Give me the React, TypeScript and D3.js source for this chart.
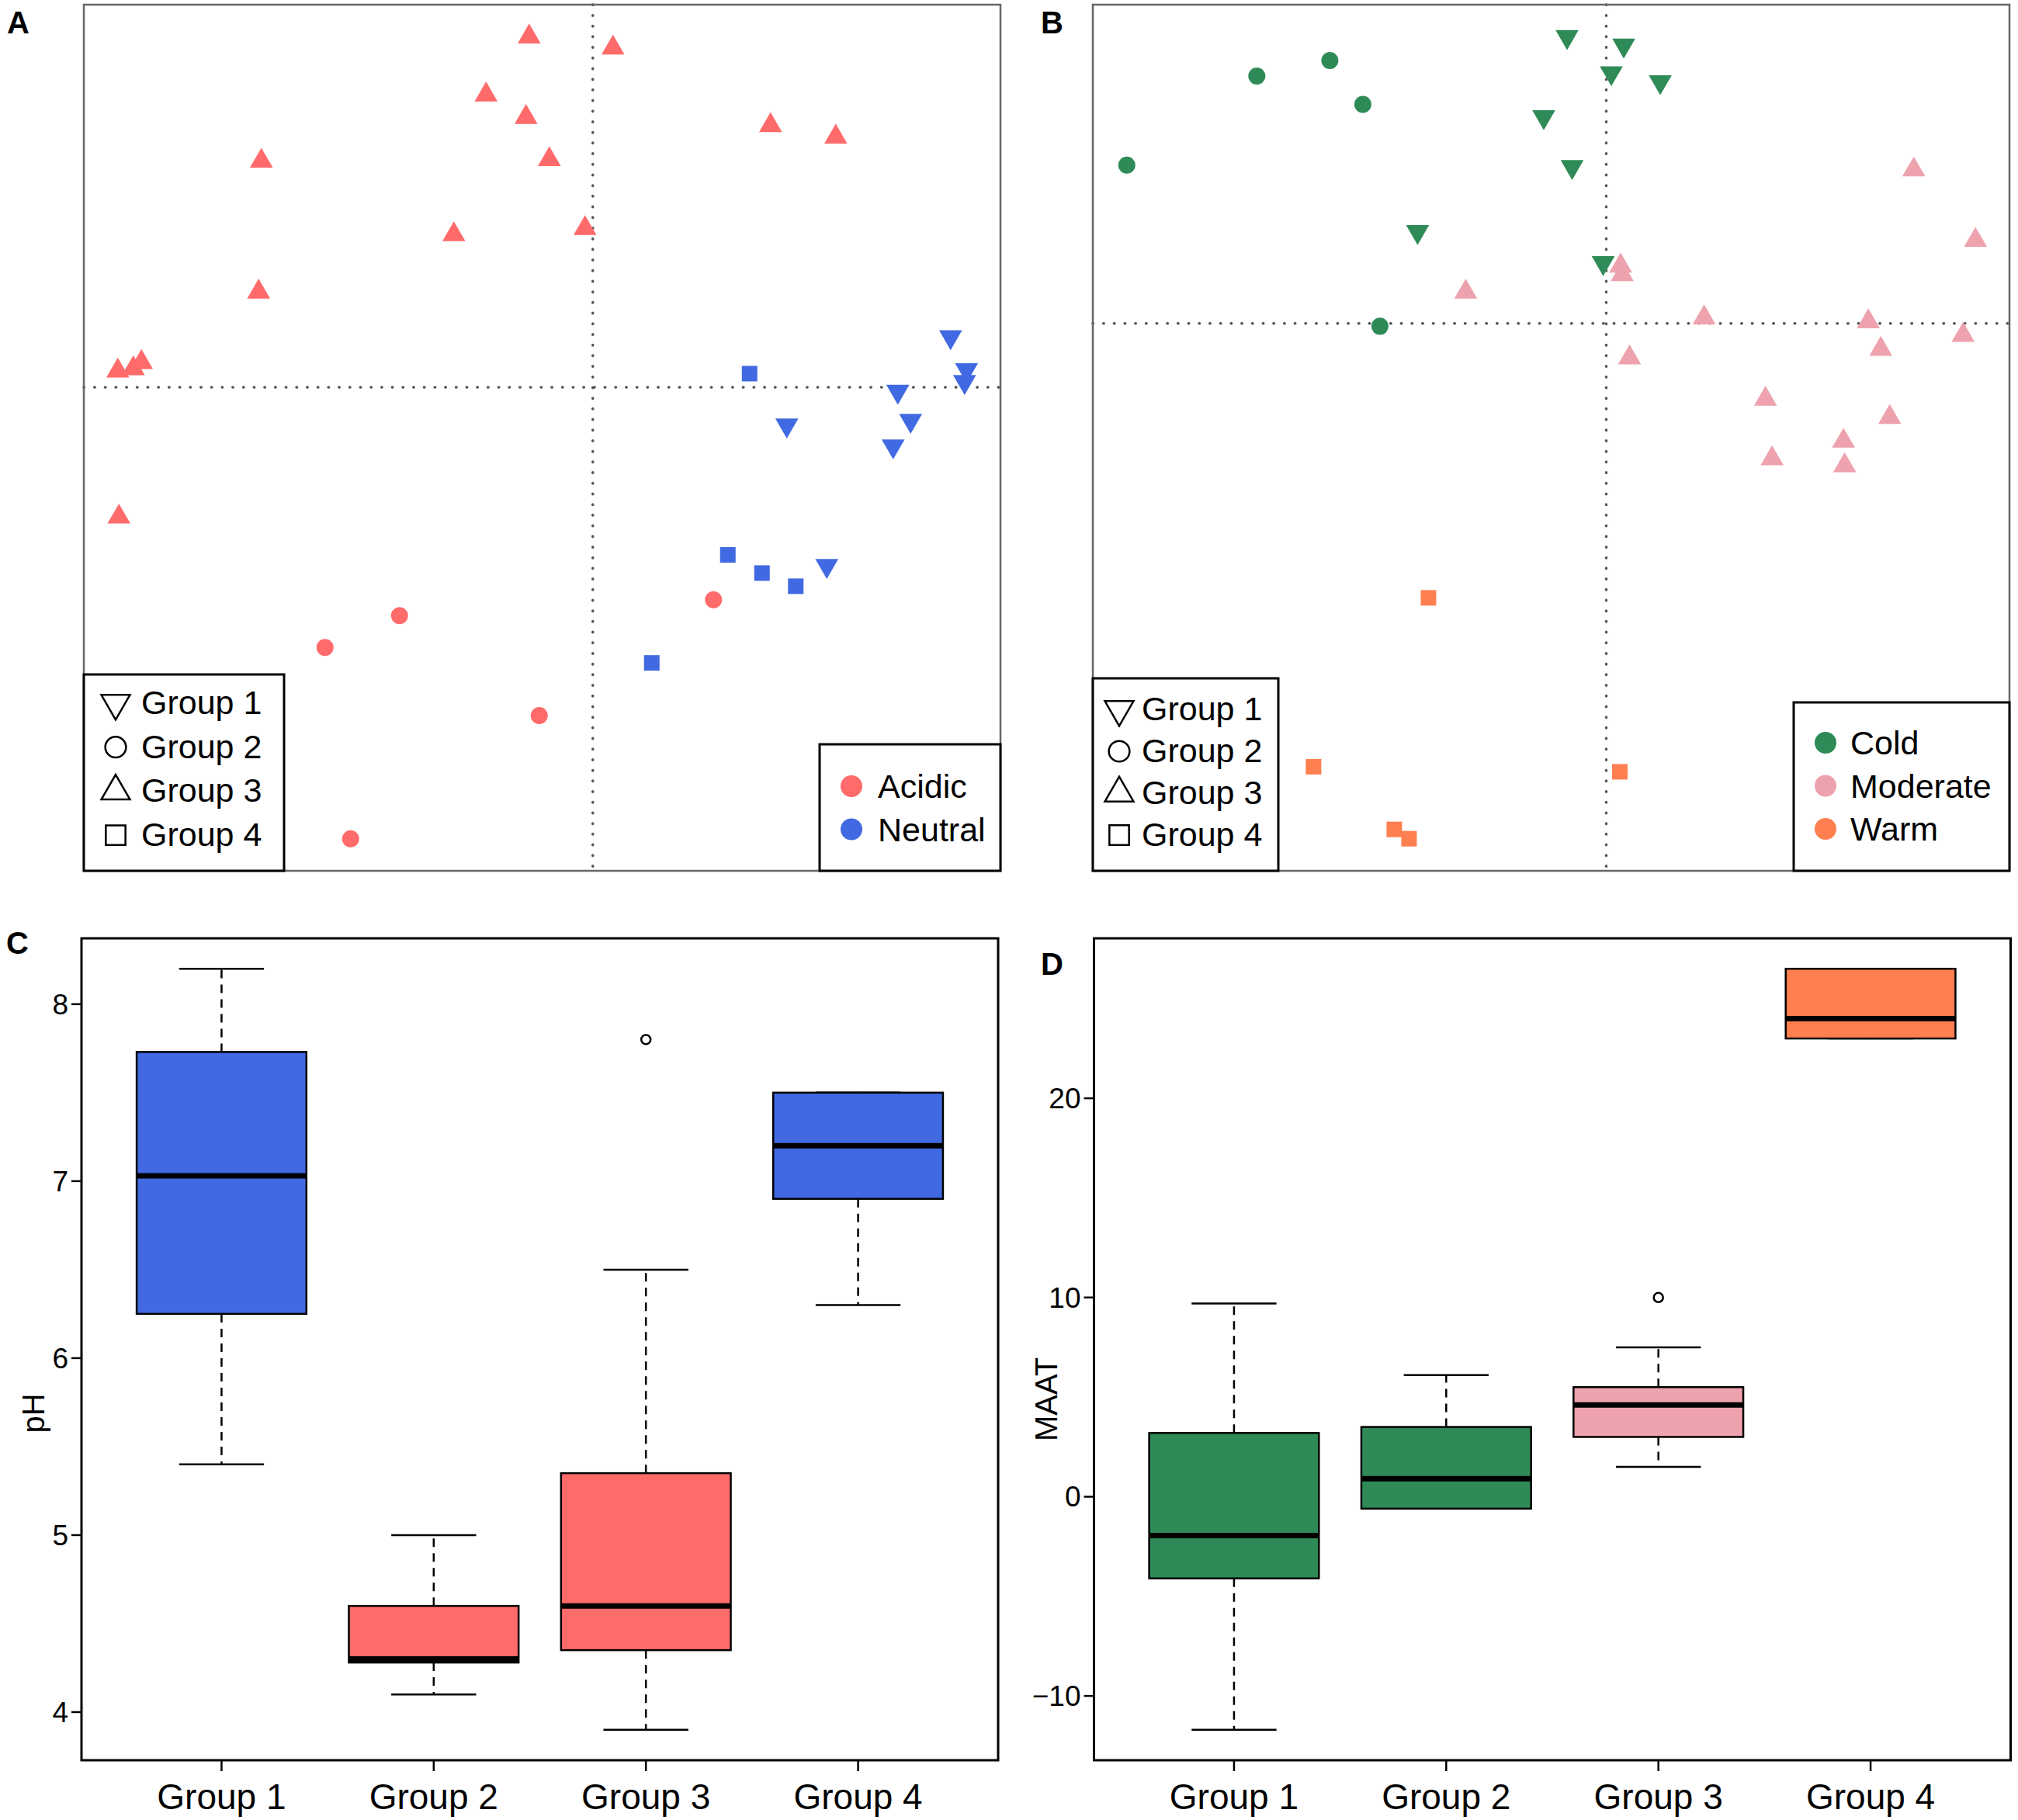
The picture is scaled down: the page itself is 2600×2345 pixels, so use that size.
import * as d3 from "d3";

const FONT = "'Liberation Sans', Arial, Helvetica, sans-serif";
const WIDTH = 2600;
const HEIGHT = 2345;

const GROUPS = ["Group 1", "Group 2", "Group 3", "Group 4"];

// ---- panel A: ordination scores coloured by soil pH class ----
const A_GROUP1 = [
  [0.922, 0.13], [0.963, 0.045], [0.958, 0.014], [0.786, -0.011],
  [0.5, -0.098], [0.819, -0.086], [0.774, -0.152], [0.603, -0.461],
];
const A_GROUP2 = [
  [-0.498, -0.59], [-0.69, -0.672], [-0.138, -0.848], [-0.624, -1.166], [0.311, -0.549],
];
const A_GROUP3 = [
  [-0.164, 0.905], [0.052, 0.876], [-0.275, 0.755], [-0.172, 0.697], [-0.854, 0.584],
  [-0.112, 0.588], [0.458, 0.676], [0.626, 0.646], [-0.358, 0.394], [-0.02, 0.41],
  [-0.861, 0.246], [-1.224, 0.042], [-1.184, 0.048], [-1.163, 0.064], [-1.221, -0.335],
];
const A_GROUP4 = [
  [0.404, 0.035], [0.348, -0.433], [0.436, -0.48], [0.523, -0.514], [0.152, -0.712],
];
const PH_CLASSES = ["Acidic", "Neutral"];
const PH_COLORS = ["#FF6A6A", "#4169E1"];
const A_GROUP_CLASS = [1, 0, 0, 1];

// ---- panel B: ordination scores coloured by MAAT class ----
const B_GROUP1 = [
  [-0.101, 0.737], [0.045, 0.715], [0.013, 0.644], [0.139, 0.621],
  [-0.161, 0.531], [-0.088, 0.403], [-0.486, 0.236], [-0.008, 0.156],
];
const B_GROUP2 = [
  [-0.9, 0.636], [-0.712, 0.676], [-0.627, 0.563], [-1.235, 0.407], [-0.583, -0.007],
];
const B_GROUP3 = [
  [0.037, 0.148], [0.041, 0.126], [-0.362, 0.081], [0.792, 0.395], [0.951, 0.214],
  [0.252, 0.015], [0.675, 0.005], [0.919, -0.03], [0.707, -0.066], [0.06, -0.088],
  [0.41, -0.194], [0.73, -0.241], [0.611, -0.302], [0.427, -0.347], [0.614, -0.365],
];
const B_GROUP4 = [
  [-0.458, -0.705], [-0.754, -1.139], [0.035, -1.152], [-0.546, -1.3], [-0.508, -1.324],
];
const MAAT_CLASSES = ["Cold", "Moderate", "Warm"];
const MAAT_COLORS = ["#2E8B57", "#EEA2AD", "#FF7F50"];
const B_GROUP_CLASS = [0, 0, 1, 2];

// ---- panel C: pH boxplots ----
const PH_LOW = [5.4, 4.1, 3.9, 6.3];
const PH_Q1 = [6.25, 4.28, 4.35, 6.9];
const PH_MED = [7.03, 4.3, 4.6, 7.2];
const PH_Q3 = [7.73, 4.6, 5.35, 7.5];
const PH_HIGH = [8.2, 5.0, 6.5, 7.5];
const PH_OUT = [[], [], [7.8], []];
const PH_TICKS = [4, 5, 6, 7, 8];

// ---- panel D: MAAT boxplots ----
const MAAT_LOW = [-11.7, -0.6, 1.5, 23.0];
const MAAT_Q1 = [-4.1, -0.6, 3.0, 23.0];
const MAAT_MED = [-1.95, 0.9, 4.6, 24.0];
const MAAT_Q3 = [3.2, 3.5, 5.5, 26.5];
const MAAT_HIGH = [9.7, 6.1, 7.5, 26.5];
const MAAT_OUT = [[], [], [10.0], []];
const MAAT_TICKS = [-10, 0, 10, 20];

const SHAPES = [d3.symbolTriangle, d3.symbolCircle, d3.symbolTriangle, d3.symbolSquare];
const ROTATE = [180, 0, 0, 0];

// R style axis range: data range extended by 4% each side
const padded = (vals: number[]) => {
  const [lo, hi] = d3.extent(vals) as [number, number];
  const p = (hi - lo) * 0.04;
  return [lo - p, hi + p];
};

type Frame = { left: number; top: number; right: number; bottom: number };

const symbolPath = (i: number, size: number) => d3.symbol().type(SHAPES[i]).size(size)() || "";

const Marker = ({ i, cx, cy, size, fill, stroke }: any) => (
  <path
    d={symbolPath(i, size)}
    transform={`translate(${cx},${cy}) rotate(${ROTATE[i]})`}
    fill={fill}
    stroke={stroke}
    strokeWidth={stroke ? 2.5 : 0}
  />
);

type ScatterProps = {
  frame: Frame;
  label: string;
  labelX: number;
  groups: number[][][];
  groupClass: number[];
  classes: string[];
  classColors: string[];
  shapeLegend: { left: number; top: number; right: number; symX: number; textX: number; first: number; step: number };
  colorLegend: { left: number; top: number; symX: number; textX: number; first: number };
};

const ScatterPanel = ({ frame, label, labelX, groups, groupClass, classes, classColors, shapeLegend, colorLegend }: ScatterProps) => {
  const all = groups.flat();
  const x = d3.scaleLinear().domain(padded(all.map((d) => d[0]))).range([frame.left, frame.right]);
  const y = d3.scaleLinear().domain(padded(all.map((d) => d[1]))).range([frame.bottom, frame.top]);

  return (
    <g>
      <text x={labelX} y={frame.top + 37} fontSize={40} fontWeight="bold" fontFamily={FONT}>
        {label}
      </text>
      <line x1={x(0)} x2={x(0)} y1={frame.top} y2={frame.bottom} stroke="#555" strokeWidth={3.5}
        strokeDasharray="0.5 13.2" strokeLinecap="round" />
      <line x1={frame.left} x2={frame.right} y1={y(0)} y2={y(0)} stroke="#555" strokeWidth={3.5}
        strokeDasharray="0.5 13.2" strokeLinecap="round" />
      {groups.map((pts, gi) =>
        pts.map((d, j) => (
          <Marker key={`${gi}-${j}`} i={gi} cx={x(d[0])} cy={y(d[1])} size={gi === 3 ? 400 : 380}
            fill={classColors[groupClass[gi]]} />
        ))
      )}
      <rect x={frame.left} y={frame.top} width={frame.right - frame.left} height={frame.bottom - frame.top}
        fill="none" stroke="#666" strokeWidth={2.5} />

      {/* shape legend */}
      <rect x={shapeLegend.left} y={shapeLegend.top} width={shapeLegend.right - shapeLegend.left}
        height={frame.bottom - shapeLegend.top} fill="white" stroke="black" strokeWidth={3} />
      {GROUPS.map((g, i) => {
        const base = shapeLegend.first + i * shapeLegend.step;
        return (
          <g key={g}>
            <Marker i={i} cx={shapeLegend.symX} cy={base - 14} size={i === 3 ? 640 : i === 1 ? 560 : 590}
              fill="none" stroke="black" />
            <text x={shapeLegend.textX} y={base} fontSize={43} fontFamily={FONT}>{g}</text>
          </g>
        );
      })}

      {/* colour legend */}
      <rect x={colorLegend.left} y={colorLegend.top} width={frame.right - colorLegend.left}
        height={frame.bottom - colorLegend.top} fill="white" stroke="black" strokeWidth={3} />
      {classes.map((c, i) => {
        const base = colorLegend.first + i * 55.5;
        return (
          <g key={c}>
            <circle cx={colorLegend.symX} cy={base - 15} r={14} fill={classColors[i]} />
            <text x={colorLegend.textX} y={base} fontSize={43} fontFamily={FONT}>{c}</text>
          </g>
        );
      })}
    </g>
  );
};

type BoxProps = {
  frame: Frame;
  label: string;
  labelPos: [number, number];
  yLabel: string;
  yLabelPos: [number, number];
  ticks: number[];
  low: number[];
  q1: number[];
  med: number[];
  q3: number[];
  high: number[];
  out: number[][];
  fills: string[];
};

const BoxPanel = ({ frame, label, labelPos, yLabel, yLabelPos, ticks, low, q1, med, q3, high, out, fills }: BoxProps) => {
  const x = d3.scaleLinear().domain(padded([0.5, GROUPS.length + 0.5])).range([frame.left, frame.right]);
  const y = d3
    .scaleLinear()
    .domain(padded([...low, ...high, ...out.flat()]))
    .range([frame.bottom, frame.top]);
  const half = (x(1.4) - x(0.6)) / 2;
  const staple = half / 2;

  return (
    <g fontFamily={FONT}>
      <text x={labelPos[0]} y={labelPos[1]} fontSize={40} fontWeight="bold">{label}</text>
      {GROUPS.map((g, i) => {
        const cx = x(i + 1);
        return (
          <g key={g}>
            <line x1={cx} x2={cx} y1={y(q3[i])} y2={y(high[i])} stroke="black" strokeWidth={2.5} strokeDasharray="11 8" />
            <line x1={cx} x2={cx} y1={y(q1[i])} y2={y(low[i])} stroke="black" strokeWidth={2.5} strokeDasharray="11 8" />
            <line x1={cx - staple} x2={cx + staple} y1={y(high[i])} y2={y(high[i])} stroke="black" strokeWidth={2.5} />
            <line x1={cx - staple} x2={cx + staple} y1={y(low[i])} y2={y(low[i])} stroke="black" strokeWidth={2.5} />
            <rect x={cx - half} y={y(q3[i])} width={2 * half} height={y(q1[i]) - y(q3[i])}
              fill={fills[i]} stroke="black" strokeWidth={2.5} />
            <line x1={cx - half} x2={cx + half} y1={y(med[i])} y2={y(med[i])} stroke="black" strokeWidth={7} />
            {out[i].map((v, j) => (
              <circle key={j} cx={cx} cy={y(v)} r={6} fill="none" stroke="black" strokeWidth={2.5} />
            ))}
            <line x1={cx} x2={cx} y1={frame.bottom} y2={frame.bottom + 14} stroke="black" strokeWidth={2.5} />
            <text x={cx} y={frame.bottom + 63} fontSize={46} textAnchor="middle">{g}</text>
          </g>
        );
      })}
      {ticks.map((t) => (
        <g key={t}>
          <line x1={frame.left - 13} x2={frame.left} y1={y(t)} y2={y(t)} stroke="black" strokeWidth={2.5} />
          <text x={frame.left - 17} y={y(t) + 13} fontSize={37} textAnchor="end">
            {t < 0 ? `\u2212${Math.abs(t)}` : t}
          </text>
        </g>
      ))}
      <text transform={`translate(${yLabelPos[0]},${yLabelPos[1]}) rotate(-90)`} fontSize={40} textAnchor="middle">
        {yLabel}
      </text>
      <rect x={frame.left} y={frame.top} width={frame.right - frame.left} height={frame.bottom - frame.top}
        fill="none" stroke="black" strokeWidth={3} />
    </g>
  );
};

export default function App() {
  return (
    <svg width={WIDTH} height={HEIGHT} style={{ position: "absolute", left: 0, top: 0, background: "white" }}>
      <rect width={WIDTH} height={HEIGHT} fill="white" />
      <ScatterPanel
        frame={{ left: 108, top: 6, right: 1289, bottom: 1122 }}
        label="A"
        labelX={9}
        groups={[A_GROUP1, A_GROUP2, A_GROUP3, A_GROUP4]}
        groupClass={A_GROUP_CLASS}
        classes={PH_CLASSES}
        classColors={PH_COLORS}
        shapeLegend={{ left: 108, top: 869, right: 366, symX: 149, textX: 182, first: 920, step: 56.7 }}
        colorLegend={{ left: 1056, top: 959, symX: 1097, textX: 1131, first: 1028 }}
      />
      <ScatterPanel
        frame={{ left: 1408, top: 6, right: 2589, bottom: 1122 }}
        label="B"
        labelX={1341}
        groups={[B_GROUP1, B_GROUP2, B_GROUP3, B_GROUP4]}
        groupClass={B_GROUP_CLASS}
        classes={MAAT_CLASSES}
        classColors={MAAT_COLORS}
        shapeLegend={{ left: 1408, top: 874, right: 1647, symX: 1442, textX: 1471, first: 928, step: 54 }}
        colorLegend={{ left: 2311, top: 905, symX: 2352, textX: 2384, first: 972 }}
      />
      <BoxPanel
        frame={{ left: 105, top: 1209, right: 1286, bottom: 2268 }}
        label="C"
        labelPos={[8, 1229]}
        yLabel="pH"
        yLabelPos={[57, 1821]}
        ticks={PH_TICKS}
        low={PH_LOW}
        q1={PH_Q1}
        med={PH_MED}
        q3={PH_Q3}
        high={PH_HIGH}
        out={PH_OUT}
        fills={[PH_COLORS[1], PH_COLORS[0], PH_COLORS[0], PH_COLORS[1]]}
      />
      <BoxPanel
        frame={{ left: 1409.5, top: 1209, right: 2590.5, bottom: 2268 }}
        label="D"
        labelPos={[1341, 1256]}
        yLabel="MAAT"
        yLabelPos={[1362, 1803]}
        ticks={MAAT_TICKS}
        low={MAAT_LOW}
        q1={MAAT_Q1}
        med={MAAT_MED}
        q3={MAAT_Q3}
        high={MAAT_HIGH}
        out={MAAT_OUT}
        fills={[MAAT_COLORS[0], MAAT_COLORS[0], MAAT_COLORS[1], MAAT_COLORS[2]]}
      />
    </svg>
  );
}
